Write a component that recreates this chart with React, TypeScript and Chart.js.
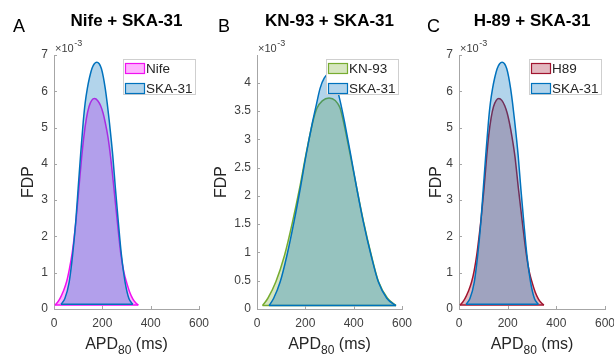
import React, { useEffect, useRef } from 'react';
import { Chart, registerables } from 'chart.js';

Chart.register(...registerables);

const FONT = "'Liberation Sans', Arial, Helvetica, sans-serif";
const AXIS_COLOR = '#a6a6a6';
const TICK_COLOR = '#404040';

// ---- data (FDP values in units of 10^-3, APD80 in ms) ----
const apdTicks = [0, 200, 400, 600];

// Panel A
const nifeApd = [4, 14, 25, 38, 52, 63, 74, 83, 92, 103, 114, 124, 134, 145, 156, 168, 181, 193, 203, 212, 223, 234, 248, 262, 277, 289, 301, 313, 326, 338, 349];
const nifeFdp = [0.11, 0.18, 0.29, 0.48, 0.75, 1.08, 1.49, 1.95, 2.5, 3.33, 4.15, 4.78, 5.25, 5.58, 5.75, 5.8, 5.74, 5.6, 5.4, 5.14, 4.75, 4.2, 3.33, 2.41, 1.49, 1.02, 0.72, 0.47, 0.28, 0.17, 0.11];
const skaApd = [29, 45, 63, 77, 90, 100, 110, 121, 129, 138, 147, 157, 167, 177, 187, 196, 204, 212, 220, 229, 243, 254, 266, 279, 294, 310, 326];
const skaFdp = [0.13, 0.29, 0.75, 1.49, 2.41, 3.33, 4.24, 5.16, 5.68, 6.08, 6.38, 6.63, 6.76, 6.8, 6.76, 6.63, 6.4, 6.08, 5.68, 5.16, 4.24, 3.33, 2.41, 1.49, 0.75, 0.29, 0.13];

// Panel B
const kn93Apd = [23, 45, 78, 114, 147, 176, 202, 231, 248, 270, 298, 325, 343, 358, 386, 413, 441, 473, 503, 540, 575];
const kn93Fdp = [0.06, 0.19, 0.48, 0.95, 1.54, 2.13, 2.72, 3.31, 3.55, 3.68, 3.73, 3.68, 3.56, 3.31, 2.72, 2.13, 1.54, 0.95, 0.48, 0.19, 0.06];
const skaBApd = [50, 69, 96, 124, 153, 179, 203, 230, 245, 261, 278, 296, 314, 331, 348, 362, 388, 413, 440, 472, 502, 537, 575];
const skaBFdp = [0.06, 0.19, 0.48, 0.95, 1.54, 2.13, 2.72, 3.31, 3.6, 3.9, 4.08, 4.15, 4.08, 3.9, 3.6, 3.31, 2.72, 2.13, 1.54, 0.95, 0.48, 0.19, 0.06];

// Panel C
const h89Apd = [4, 14, 25, 38, 52, 63, 73, 82, 91, 103, 113, 122, 132, 142, 153, 164, 176, 188, 198, 207, 218, 230, 244, 260, 277, 289, 301, 313, 326, 338, 349];
const h89Fdp = [0.11, 0.18, 0.29, 0.48, 0.75, 1.08, 1.49, 1.97, 2.5, 3.33, 4.15, 4.78, 5.27, 5.58, 5.75, 5.8, 5.75, 5.6, 5.4, 5.14, 4.74, 4.2, 3.33, 2.41, 1.49, 1.02, 0.72, 0.47, 0.28, 0.17, 0.11];

type Series = { label: string; apd: number[]; fdp: number[]; edge: string; fill: string };

type Panel = {
  letter: string;
  title: string;
  left: number;
  width: number;
  yWidth: number;
  padRight: number;
  yTitleX: number;
  yMax: number;
  yStep: number;
  letterX: number;
  legendX: number;
  series: Series[];
};

const SKA_EDGE = '#0072BD';
const SKA_FILL = 'rgba(0,114,189,0.3)';

const panels: Panel[] = [
  {
    letter: 'A', title: 'Nife + SKA-31', left: 0, width: 215, yWidth: 54, padRight: 16, yTitleX: 29,
    yMax: 7, yStep: 1, letterX: 13, legendX: 123,
    series: [
      { label: 'Nife', apd: nifeApd, fdp: nifeFdp, edge: '#F010F0', fill: 'rgba(255,0,255,0.3)' },
      { label: 'SKA-31', apd: skaApd, fdp: skaFdp, edge: SKA_EDGE, fill: SKA_FILL },
    ],
  },
  {
    letter: 'B', title: 'KN-93 + SKA-31', left: 205, width: 215, yWidth: 52, padRight: 18, yTitleX: 17,
    yMax: 4.49, yStep: 0.5, letterX: 13, legendX: 121,
    series: [
      { label: 'KN-93', apd: kn93Apd, fdp: kn93Fdp, edge: '#77AC30', fill: 'rgba(119,172,48,0.3)' },
      { label: 'SKA-31', apd: skaBApd, fdp: skaBFdp, edge: SKA_EDGE, fill: SKA_FILL },
    ],
  },
  {
    letter: 'C', title: 'H-89 + SKA-31', left: 410, width: 204, yWidth: 49, padRight: 9, yTitleX: 27,
    yMax: 7, yStep: 1, letterX: 17, legendX: 119,
    series: [
      { label: 'H89', apd: h89Apd, fdp: h89Fdp, edge: '#A2142F', fill: 'rgba(162,20,47,0.3)' },
      { label: 'SKA-31', apd: skaApd, fdp: skaFdp, edge: SKA_EDGE, fill: SKA_FILL },
    ],
  },
];

function decorPlugin(p: Panel) {
  return {
    id: 'decor' + p.letter,
    afterDraw(chart: any) {
      const { ctx, chartArea: a, scales } = chart;
      ctx.save();
      // inward tick marks
      ctx.strokeStyle = AXIS_COLOR;
      ctx.lineWidth = 1;
      scales.x.ticks.forEach((t: any) => {
        const px = Math.round(scales.x.getPixelForValue(t.value)) + 0.5;
        ctx.beginPath();
        ctx.moveTo(px, a.bottom);
        ctx.lineTo(px, a.bottom - 3);
        ctx.stroke();
      });
      scales.y.ticks.forEach((t: any) => {
        const py = Math.round(scales.y.getPixelForValue(t.value)) + 0.5;
        ctx.beginPath();
        ctx.moveTo(a.left, py);
        ctx.lineTo(a.left + 3, py);
        ctx.stroke();
      });

      const cx = (a.left + a.right) / 2;
      // panel letter
      ctx.fillStyle = '#000';
      ctx.textBaseline = 'alphabetic';
      ctx.textAlign = 'left';
      ctx.font = `18px ${FONT}`;
      ctx.fillText(p.letter, p.letterX, 32);
      // title
      ctx.textAlign = 'center';
      ctx.font = `bold 17px ${FONT}`;
      ctx.fillText(p.title, cx, 26);

      // exponent label
      ctx.textAlign = 'left';
      ctx.fillStyle = TICK_COLOR;
      ctx.font = `11px ${FONT}`;
      const ex = a.left + 1;
      ctx.fillText('\u00d710', ex, 51.5);
      const w10 = ctx.measureText('\u00d710').width;
      ctx.font = `9px ${FONT}`;
      ctx.fillText('-3', ex + w10 + 0.5, 46);

      // x-axis title with subscript
      ctx.fillStyle = '#262626';
      ctx.font = `16px ${FONT}`;
      const w1 = ctx.measureText('APD').width;
      const w3 = ctx.measureText(' (ms)').width;
      ctx.font = `12px ${FONT}`;
      const w2 = ctx.measureText('80').width;
      let x = cx - (w1 + w2 + w3) / 2;
      ctx.font = `16px ${FONT}`;
      ctx.fillText('APD', x, 349);
      x += w1;
      ctx.font = `12px ${FONT}`;
      ctx.fillText('80', x, 353.5);
      x += w2;
      ctx.font = `16px ${FONT}`;
      ctx.fillText(' (ms)', x, 349);

      // legend
      const lx = p.legendX;
      const ly = 59;
      const lw = 72;
      const lh = 35;
      ctx.fillStyle = '#fff';
      ctx.fillRect(lx, ly, lw, lh);
      ctx.strokeStyle = '#cfcfcf';
      ctx.lineWidth = 1;
      ctx.strokeRect(lx + 0.5, ly + 0.5, lw, lh);
      p.series.forEach((s, i) => {
        const sy = 63.5 + i * 20;
        ctx.fillStyle = '#fff';
        ctx.fillRect(lx + 2.5, sy, 19, 10);
        ctx.fillStyle = s.fill;
        ctx.fillRect(lx + 2.5, sy, 19, 10);
        ctx.strokeStyle = s.edge;
        ctx.lineWidth = 1.2;
        ctx.strokeRect(lx + 2.5, sy, 19, 10);
        ctx.fillStyle = '#262626';
        ctx.font = `13.5px ${FONT}`;
        ctx.textAlign = 'left';
        ctx.fillText(s.label, lx + 23, sy + 9.8);
      });
      ctx.restore();
    },
  };
}

function buildDatasets(p: Panel) {
  const ds: any[] = [];
  p.series.forEach((s, i) => {
    const order = p.series.length - 1 - i;
    const n = s.apd.length - 1;
    ds.push({
      label: s.label,
      data: s.apd.map((x, k) => ({ x, y: s.fdp[k] })),
      borderColor: s.edge,
      backgroundColor: s.fill,
      borderWidth: 1.5,
      pointRadius: 0,
      cubicInterpolationMode: 'monotone',
      fill: { value: s.fdp[0] },
      order,
    });
    ds.push({
      label: s.label + ' base',
      data: [
        { x: s.apd[0], y: s.fdp[0] },
        { x: s.apd[n], y: s.fdp[n] },
      ],
      borderColor: s.edge,
      borderWidth: 1.5,
      pointRadius: 0,
      fill: false,
      order,
    });
  });
  return ds;
}

function PanelChart({ p }: { p: Panel }) {
  const ref = useRef<HTMLCanvasElement | null>(null);
  useEffect(() => {
    if (!ref.current) return;
    const fmt = (v: any) => String(Number(Number(v).toFixed(2)));
    const chart = new Chart(ref.current, {
      type: 'line',
      data: { datasets: buildDatasets(p) },
      options: {
        responsive: false,
        animation: false,
        devicePixelRatio: 1,
        events: [],
        layout: { padding: { top: 55, right: p.padRight, bottom: 0, left: 0 } },
        plugins: {
          legend: { display: false },
          tooltip: { enabled: false },
          title: { display: false },
        },
        scales: {
          x: {
            type: 'linear',
            min: apdTicks[0],
            max: apdTicks[apdTicks.length - 1],
            afterFit: (s: any) => {
              s.height = 45;
              s.paddingLeft = 0;
              s.paddingRight = 0;
            },
            afterBuildTicks: (s: any) => {
              s.ticks = apdTicks.map((v) => ({ value: v }));
            },
            ticks: {
              color: TICK_COLOR,
              font: { family: FONT, size: 12 },
              padding: 7,
              maxRotation: 0,
              autoSkip: false,
              callback: fmt,
            },
            grid: { display: false, drawTicks: false },
            border: { display: true, color: AXIS_COLOR, width: 1 },
          },
          y: {
            type: 'linear',
            min: 0,
            max: p.yMax,
            afterFit: (s: any) => {
              s.width = p.yWidth;
              s.paddingTop = 0;
              s.paddingBottom = 0;
            },
            ticks: {
              stepSize: p.yStep,
              includeBounds: false,
              color: TICK_COLOR,
              font: { family: FONT, size: 12 },
              padding: 6,
              autoSkip: false,
              callback: fmt,
            },
            grid: { display: false, drawTicks: false },
            border: { display: true, color: AXIS_COLOR, width: 1 },
            title: {
              display: true,
              text: 'FDP',
              color: '#262626',
              font: { family: FONT, size: 16, lineHeight: 1.2 },
              padding: { top: p.yTitleX - 9.6, bottom: 0 },
            },
          },
        },
      } as any,
      plugins: [decorPlugin(p)],
    });
    return () => chart.destroy();
  }, [p]);
  return (
    <canvas
      ref={ref}
      width={p.width}
      height={354}
      style={{ position: 'absolute', left: p.left, top: 0, width: p.width, height: 354 }}
    />
  );
}

export default function App() {
  return (
    <div
      style={{
        position: 'fixed',
        left: 0,
        top: 0,
        width: 614,
        height: 354,
        background: '#fff',
        overflow: 'hidden',
      }}
    >
      {panels.map((p) => (
        <PanelChart key={p.letter} p={p} />
      ))}
    </div>
  );
}
